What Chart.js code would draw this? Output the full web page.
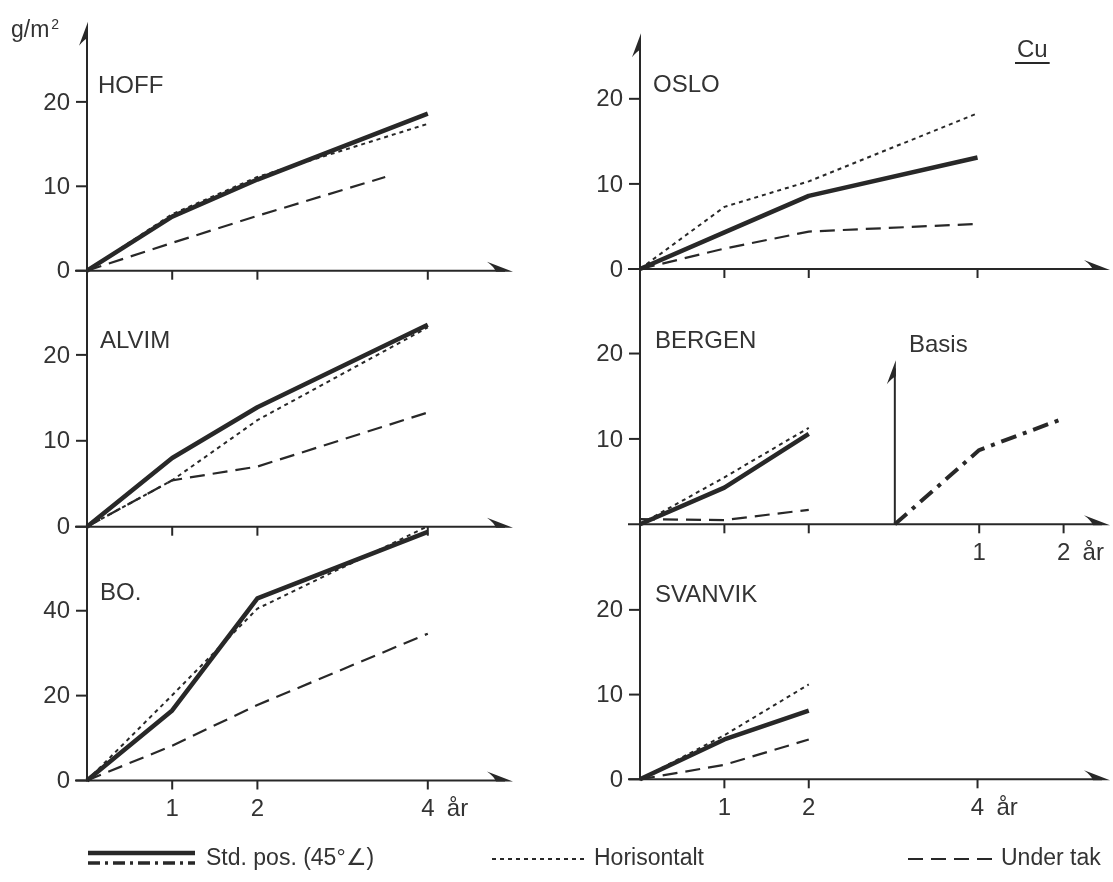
<!DOCTYPE html>
<html lang="no">
<head>
<meta charset="utf-8">
<title>Cu – vekttap</title>
<script src="https://cdn.jsdelivr.net/npm/chart.js@4.4.1/dist/chart.umd.min.js"></script>
<style>
  html, body { margin: 0; background: #fff; }
  #ark { position: relative; width: 1113px; height: 882px; overflow: hidden; }
  #ark canvas { position: absolute; left: 0; top: 0; }
</style>
</head>
<body>
<div id="ark"></div>
<script>
const W = 1113;
const H = 882;
const INK = "#282828";
const TEXT = "#333";
const FONT = '"Liberation Sans", Arial, sans-serif';

// Eksponeringstid i år
const years = [0, 1, 2, 4];
const shortYears = [0, 1, 2];
const hoffTakYears = [0, 1, 2, 3.5];

// g/m2 per stasjon: Std. pos. / Horisontalt / Under tak
const hoffStd = [0, 6.4, 10.8, 18.6];
const hoffHor = [0, 6.7, 11.1, 17.4];
const hoffTak = [0, 3.3, 6.5, 11.1];

const alvimStd = [0, 8.0, 13.9, 23.5];
const alvimHor = [0, 5.4, 12.4, 23.2];
const alvimTak = [0, 5.4, 7.0, 13.3];

const boStd = [0, 16.5, 42.9, 58.6];
const boHor = [0, 20.1, 40.5, 59.9];
const boTak = [0, 8.2, 17.8, 34.6];

const osloStd = [0, 4.3, 8.6, 13.1];
const osloHor = [0, 7.3, 10.3, 18.3];
const osloTak = [0, 2.4, 4.4, 5.3];

const bergenStd = [0, 4.3, 10.6];
const bergenHor = [0, 5.5, 11.3];
const bergenTak = [0.6, 0.5, 1.7];
const basisStd = [0, 8.7, 12.4];

const svanvikStd = [0, 4.7, 8.1];
const svanvikHor = [0, 5.2, 11.2];
const svanvikTak = [0, 1.7, 4.7];

// Aksemerker
const xTickYears = [1, 2, 4];
const bergenTickYears = [1, 2];
const basisTickYears = [1, 2];
const yTicks10 = [0, 10, 20];
const yTicks20 = [0, 20, 40];
const bergenYTicks = [10, 20];
const X_UNIT = "år";

const legendLabels = ["Std. pos. (45°∠)", "Horisontalt", "Under tak"];

// Linjetyper
const STYLE = {
  std: { width: 4.5, dash: [] },
  hor: { width: 2, dash: [4, 4] },
  tak: { width: 2.2, dash: [15, 8] },
  basis: { width: 4, dash: [16, 7, 4, 7] },
};

// box = [piksel for x=0, piksel for xMax, piksel for yMax, piksel for y=0]
const panels = [
  {
    name: "HOFF", nameAt: [98, 93], box: [87, 513, 21.7, 270.7], xMax: 5.0, yMax: 29.5,
    arrowUp: true, yTicks: yTicks10, xTicks: xTickYears, xLabels: false,
    series: [
      { kind: "std", x: years, y: hoffStd },
      { kind: "hor", x: years, y: hoffHor },
      { kind: "tak", x: hoffTakYears, y: hoffTak },
    ],
  },
  {
    name: "ALVIM", nameAt: [100, 348], box: [87, 513, 270.7, 526.7], xMax: 5.0, yMax: 29.8,
    yTicks: yTicks10, xTicks: xTickYears, xLabels: false,
    series: [
      { kind: "std", x: years, y: alvimStd },
      { kind: "hor", x: years, y: alvimHor },
      { kind: "tak", x: years, y: alvimTak },
    ],
  },
  {
    name: "BO.", nameAt: [100, 600], box: [87, 513, 526.7, 780.5], xMax: 5.0, yMax: 59.8,
    yTicks: yTicks20, xTicks: xTickYears, xLabels: true,
    series: [
      { kind: "std", x: years, y: boStd },
      { kind: "hor", x: years, y: boHor },
      { kind: "tak", x: years, y: boTak },
    ],
  },
  {
    name: "OSLO", nameAt: [653, 92], box: [640, 1110, 33.3, 269], xMax: 5.57, yMax: 27.7,
    arrowUp: true, yTicks: yTicks10, xTicks: xTickYears, xLabels: false,
    series: [
      { kind: "std", x: years, y: osloStd },
      { kind: "hor", x: years, y: osloHor },
      { kind: "tak", x: years, y: osloTak },
    ],
  },
  {
    name: "BERGEN", nameAt: [655, 348], box: [640, 1110, 269, 524.3], xMax: 5.57, yMax: 29.9,
    yTicks: bergenYTicks, xTicks: bergenTickYears, xLabels: false,
    basis: { name: "Basis", nameAt: [909, 352], offset: 3.02, top: 19.2, ticks: basisTickYears },
    series: [
      { kind: "std", x: shortYears, y: bergenStd },
      { kind: "hor", x: shortYears, y: bergenHor },
      { kind: "tak", x: shortYears, y: bergenTak },
      { kind: "basis", x: shortYears, y: basisStd },
    ],
  },
  {
    name: "SVANVIK", nameAt: [655, 602], box: [640, 1110, 524.3, 779.3], xMax: 5.57, yMax: 30.1,
    yTicks: yTicks10, xTicks: xTickYears, xLabels: true,
    series: [
      { kind: "std", x: shortYears, y: svanvikStd },
      { kind: "hor", x: shortYears, y: svanvikHor },
      { kind: "tak", x: shortYears, y: svanvikTak },
    ],
  },
];

function seg(ctx, x1, y1, x2, y2) {
  ctx.beginPath();
  ctx.moveTo(x1, y1);
  ctx.lineTo(x2, y2);
  ctx.stroke();
}

// halv pilspiss, mothake over aksen
function arrowRight(ctx, x, y) {
  ctx.beginPath();
  ctx.moveTo(x, y + 1);
  ctx.lineTo(x - 26, y - 9);
  ctx.quadraticCurveTo(x - 19, y - 4, x - 17, y + 1);
  ctx.closePath();
  ctx.fill();
}

// halv pilspiss, mothake til venstre
function arrowUp(ctx, x, y) {
  ctx.beginPath();
  ctx.moveTo(x + 1, y);
  ctx.lineTo(x - 8, y + 24);
  ctx.quadraticCurveTo(x - 3, y + 18, x + 1, y + 16);
  ctx.closePath();
  ctx.fill();
}

function xLabelsAt(ctx, scale, ticks, y0) {
  ctx.textAlign = "center";
  ticks.forEach((v) => ctx.fillText(String(v), scale.getPixelForValue(v), y0 + 29));
  const last = scale.getPixelForValue(ticks[ticks.length - 1]);
  ctx.textAlign = "left";
  ctx.fillText(X_UNIT, last + 19, y0 + 29);
}

function makeAxes(p) {
  return {
    id: "akser",
    beforeDatasetsDraw(chart) {
      const { ctx } = chart;
      const x = chart.scales.x;
      const y = chart.scales.y;
      const x0 = x.getPixelForValue(0);
      const y0 = y.getPixelForValue(0);
      const yTop = y.getPixelForValue(p.yMax);
      const xEnd = x.getPixelForValue(p.xMax);

      ctx.save();
      ctx.strokeStyle = INK;
      ctx.fillStyle = INK;
      ctx.lineWidth = 2;
      ctx.lineCap = "butt";

      seg(ctx, x0, y0 + 1, x0, yTop + (p.arrowUp ? 8 : 0));
      if (p.arrowUp) arrowUp(ctx, x0, yTop);
      seg(ctx, x0 - 12, y0, xEnd - 8, y0);
      arrowRight(ctx, xEnd, y0);

      p.yTicks.forEach((v) => {
        const py = y.getPixelForValue(v);
        seg(ctx, x0 - 11, py, x0, py);
      });
      p.xTicks.forEach((v) => {
        const px = x.getPixelForValue(v);
        seg(ctx, px, y0, px, y0 + 9);
      });

      ctx.fillStyle = TEXT;
      ctx.font = "24px " + FONT;
      ctx.textBaseline = "middle";
      ctx.textAlign = "right";
      p.yTicks.forEach((v) => ctx.fillText(String(v), x0 - 17, y.getPixelForValue(v) + 1));
      if (p.xLabels) xLabelsAt(ctx, x, p.xTicks, y0);

      ctx.textBaseline = "alphabetic";
      ctx.textAlign = "left";
      ctx.fillText(p.name, p.nameAt[0], p.nameAt[1]);

      if (p.basis) {
        const xb = chart.scales.xb;
        const b0 = xb.getPixelForValue(0);
        const bTop = y.getPixelForValue(p.basis.top);
        ctx.fillStyle = INK;
        seg(ctx, b0, y0, b0, bTop + 8);
        arrowUp(ctx, b0, bTop);
        p.basis.ticks.forEach((v) => {
          const px = xb.getPixelForValue(v);
          seg(ctx, px, y0, px, y0 + 9);
        });
        ctx.fillStyle = TEXT;
        ctx.textBaseline = "middle";
        xLabelsAt(ctx, xb, p.basis.ticks, y0);
        ctx.textBaseline = "alphabetic";
        ctx.textAlign = "left";
        ctx.fillText(p.basis.name, p.basis.nameAt[0], p.basis.nameAt[1]);
      }
      ctx.restore();
    },
  };
}

function strokeSample(ctx, kind, x1, x2, y) {
  ctx.lineWidth = STYLE[kind].width;
  ctx.setLineDash(STYLE[kind].dash);
  seg(ctx, x1, y, x2, y);
  ctx.setLineDash([]);
}

// enhet, grunnstoff og forklaring
const decor = {
  id: "pynt",
  afterDraw(chart) {
    const { ctx } = chart;
    ctx.save();
    ctx.fillStyle = TEXT;
    ctx.strokeStyle = INK;
    ctx.font = "23px " + FONT;
    ctx.fillText("g/m", 11, 37);
    const gw = ctx.measureText("g/m").width;
    ctx.font = "14px " + FONT;
    ctx.fillText("2", 13 + gw, 29);

    ctx.font = "24px " + FONT;
    ctx.fillText("Cu", 1017, 57);
    const cw = ctx.measureText("Cu").width;
    ctx.lineWidth = 2;
    seg(ctx, 1015, 63, 1019 + cw, 63);

    // forklaring: to linjer for Std. pos. (hel + strek-prikk for Basis)
    ctx.font = "23px " + FONT;
    ctx.textBaseline = "middle";
    strokeSample(ctx, "std", 88, 195, 853);
    ctx.lineWidth = 3.5;
    ctx.setLineDash([12, 5, 3, 5]);
    seg(ctx, 88, 863, 195, 863);
    ctx.setLineDash([]);
    ctx.fillText(legendLabels[0], 206, 859);

    strokeSample(ctx, "hor", 492, 588, 859);
    ctx.fillText(legendLabels[1], 594, 859);

    strokeSample(ctx, "tak", 908, 996, 859);
    ctx.fillText(legendLabels[2], 1001, 859);
    ctx.restore();
  },
};

const ark = document.getElementById("ark");

panels.forEach((p, idx) => {
  const cv = document.createElement("canvas");
  cv.width = W;
  cv.height = H;
  ark.appendChild(cv);

  const scales = {
    x: { type: "linear", display: false, bounds: "data", min: 0, max: p.xMax },
    y: { type: "linear", display: false, bounds: "data", min: 0, max: p.yMax },
  };
  if (p.basis) {
    scales.xb = {
      type: "linear", display: false, bounds: "data",
      min: -p.basis.offset, max: p.xMax - p.basis.offset,
    };
  }

  new Chart(cv, {
    type: "line",
    data: {
      datasets: p.series.map((s) => ({
        label: s.kind,
        data: s.x.map((xv, i) => ({ x: xv, y: s.y[i] })),
        xAxisID: s.kind === "basis" ? "xb" : "x",
        borderColor: INK,
        borderWidth: STYLE[s.kind].width,
        borderDash: STYLE[s.kind].dash,
        borderJoinStyle: "round",
        pointRadius: 0,
        tension: 0,
        fill: false,
        clip: false,
      })),
    },
    options: {
      responsive: false,
      animation: false,
      events: [],
      layout: {
        padding: { left: p.box[0], right: W - p.box[1], top: p.box[2], bottom: H - p.box[3] },
      },
      plugins: { legend: { display: false }, tooltip: { enabled: false } },
      scales,
    },
    plugins: idx === 0 ? [makeAxes(p), decor] : [makeAxes(p)],
  });
});
</script>
</body>
</html>
